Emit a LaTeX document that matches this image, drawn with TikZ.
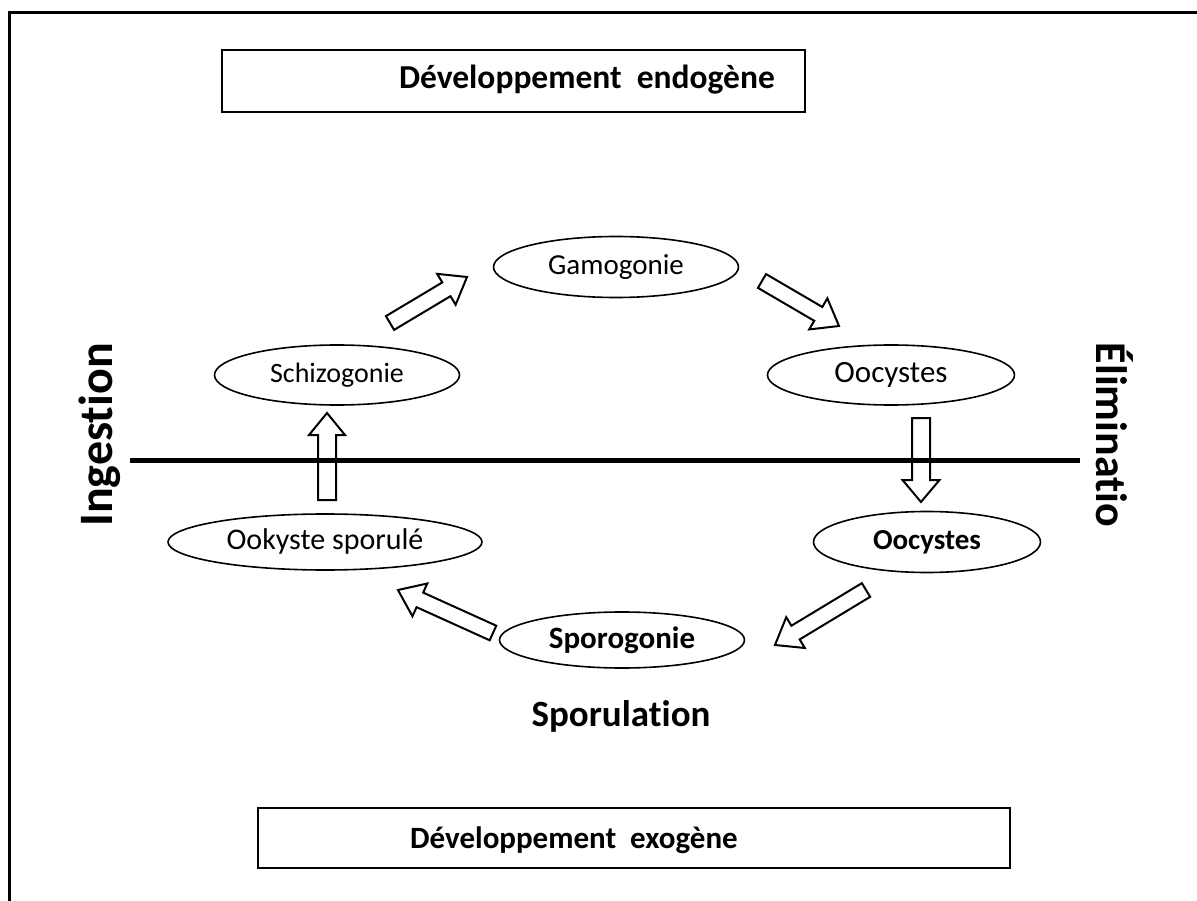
\documentclass[tikz,border=0pt]{standalone}
\usepackage{fontspec}
\setmainfont{Carlito}[Ligatures=NoCommon]
\usetikzlibrary{shapes.geometric,calc}
\newcommand{\blockarr}[5]{%
  \path ($(#2)!#5!(#1)$) coordinate (tmpH);
  \draw[blockarrow] ($(#1)!#3!90:(#2)$) -- ($(tmpH)!#3!90:(#2)$) -- ($(tmpH)!#4!90:(#2)$) -- (#2)
    -- ($(tmpH)!#4!-90:(#2)$) -- ($(tmpH)!#3!-90:(#2)$) -- ($(#1)!#3!-90:(#2)$) -- cycle;}
\tikzset{
  stage/.style={ellipse, draw, line width=1.6pt, inner sep=0pt},
  titlebox/.style={draw, line width=2.6pt},
  blockarrow/.style={draw, line width=2pt, line join=miter},
}
\begin{document}
\begin{tikzpicture}[x=1pt,y=-1pt]
\useasboundingbox (0,0) rectangle (1197,901);
% outer frame (cut at right and bottom)
\draw[line width=3pt] (9,905) -- (9,13) -- (1200,13);
% title boxes
\draw[titlebox] (222,50) rectangle (805,112);
\node[font=\bfseries\fontsize{33.5}{38}\selectfont] (endo) at (587,80) {Développement\ \ endogène};
\draw[titlebox] (258,808) rectangle (1010,868);
\node[font=\bfseries\fontsize{31}{36}\selectfont] (exo) at (574,840) {Développement\ \ exogène};
% separating line
\coordinate (lineL) at (130,460);
\coordinate (lineR) at (1080,460);
\draw[line width=5pt] (lineL) -- (lineR);
% stages
\node[stage, minimum width=245pt, minimum height=61pt, font=\fontsize{29}{32}\selectfont] (gamo) at (616,267) {Gamogonie};
\node[stage, minimum width=245pt, minimum height=60pt, font=\fontsize{28}{30}\selectfont] (schizo) at (337,375) {Schizogonie};
\node[stage, minimum width=247pt, minimum height=60pt, font=\fontsize{31}{34}\selectfont] (oocA) at (891,375) {Oocystes};
\node[stage, minimum width=227pt, minimum height=61pt, font=\bfseries\fontsize{29}{32}\selectfont] (oocB) at (927,542) {Oocystes};
\node[stage, minimum width=314pt, minimum height=56pt, font=\fontsize{30}{34}\selectfont] (ookyste) at (325,542) {Ookyste sporulé};
\node[stage, minimum width=245pt, minimum height=56pt, font=\bfseries\fontsize{31}{34}\selectfont] (sporo) at (622,640) {Sporogonie};
% side and bottom labels
\node[font=\bfseries\fontsize{48}{52}\selectfont, rotate=90] (ing) at (100,435) {Ingestion};
\node[font=\bfseries\fontsize{44}{50}\selectfont, rotate=-90] (elim) at (1115,435) {Éliminatio};
\node[font=\bfseries\fontsize{37}{42}\selectfont] (sporul) at (621,716) {Sporulation};
% block arrows
\coordinate (a1t) at (390,323); \coordinate (a1h) at (467,277);
\coordinate (a2t) at (762,281); \coordinate (a2h) at (839,326);
\coordinate (a3t) at (921,418); \coordinate (a3h) at (921,502);
\coordinate (a4t) at (866,590); \coordinate (a4h) at (775,645);
\coordinate (a5t) at (493,633); \coordinate (a5h) at (398,590);
\coordinate (a6t) at (327,500); \coordinate (a6h) at (327,413);
\blockarr{a1t}{a1h}{8pt}{18pt}{24pt}
\blockarr{a2t}{a2h}{8pt}{18pt}{24pt}
\blockarr{a3t}{a3h}{9pt}{18.5pt}{22pt}
\blockarr{a4t}{a4h}{8pt}{18pt}{24pt}
\blockarr{a5t}{a5h}{8pt}{18pt}{24pt}
\blockarr{a6t}{a6h}{9pt}{18pt}{22pt}
\end{tikzpicture}
\end{document}
